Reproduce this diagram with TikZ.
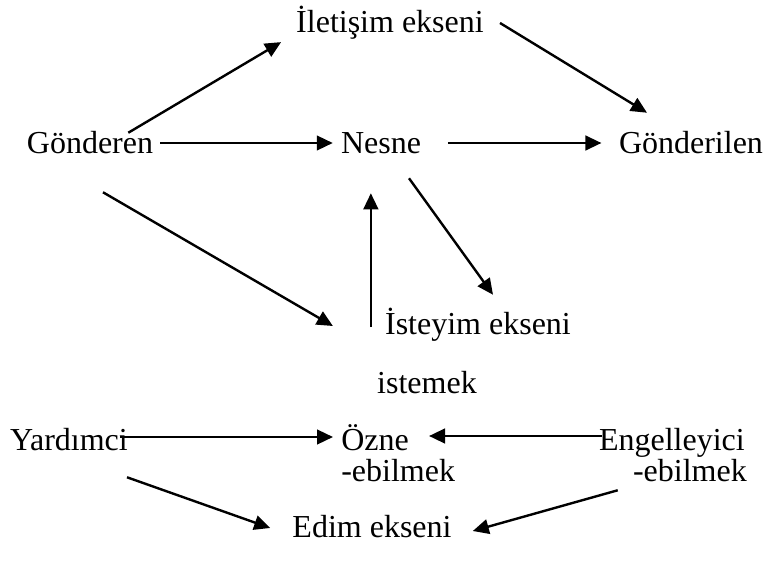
\documentclass[tikz,border=0pt]{standalone}
\usepackage{fontspec}
\setmainfont{Liberation Serif}
\usetikzlibrary{arrows.meta}

\begin{document}
\begin{tikzpicture}[x=0.75pt,y=-0.75pt,>={Triangle[length=12pt,width=11pt]},
    every node/.style={font=\fontsize{24}{28}\selectfont,inner sep=0pt,text height=15pt,text depth=0pt},
    axis/.style={->,line width=1.8pt}]
  \useasboundingbox (0,0) rectangle (768,567);
  % iletisim ekseni
  \node[anchor=base] (ilet) at (390,33) {İletişim ekseni};
  \node[anchor=base] (gon) at (90,153) {Gönderen};
  \node[anchor=base] (nes) at (381,153) {Nesne};
  \node[anchor=base] (gonl) at (691,153) {Gönderilen};
  % isteyim ekseni
  \node[anchor=base] (istey) at (478,334) {İsteyim ekseni};
  \node[anchor=base] (istm) at (427,393) {istemek};
  % edim ekseni
  \node[anchor=base] (yard) at (69,450) {Yardımci};
  \node[anchor=base west] (ozne) at (341,450) {Özne};
  \node[anchor=base west] (ozneb) at (341,481) {-ebilmek};
  \node[anchor=base east] (eng) at (745,450) {Engelleyici};
  \node[anchor=base east] (engb) at (747,481) {-ebilmek};
  \node[anchor=base] (edim) at (372,537) {Edim ekseni};

  \draw[axis,shorten >=13pt] (gon.15) -- (ilet.south west);
  \draw[axis] ([shift={(16,0)}]ilet.east) -- ([shift={(-44,-20)}]gonl.north);
  \draw[axis,shorten <=5pt,shorten >=6pt] (gon) -- (nes);
  \draw[axis,shorten <=20pt,shorten >=13pt] (nes) -- (gonl);

  \draw[axis] ([shift={(13,39)}]gon.south) -- ([shift={(-52,2)}]istey.west);
  \coordinate (isteyfoot) at ([shift={(-14,3)}]istey.west);
  \draw[axis,shorten >=30pt] (isteyfoot) -- (isteyfoot |- nes.south);
  \draw[axis] ([shift={(28,25)}]nes.south) -- ([shift={(15,-19)}]istey.north);

  \draw[axis] ([shift={(-8,-3)}]yard.east) -- ([shift={(-8,-3)}]ozne.west);
  \draw[axis] ([shift={(3,-4)}]eng.west) -- ([shift={(20,-4)}]ozne.east);
  \draw[axis] ([shift={(58,27)}]yard.south) -- ([shift={(-22,1)}]edim.west);
  \draw[axis] ([shift={(-15,9)}]engb.south west) -- ([shift={(21,4)}]edim.east);
\end{tikzpicture}
\end{document}
